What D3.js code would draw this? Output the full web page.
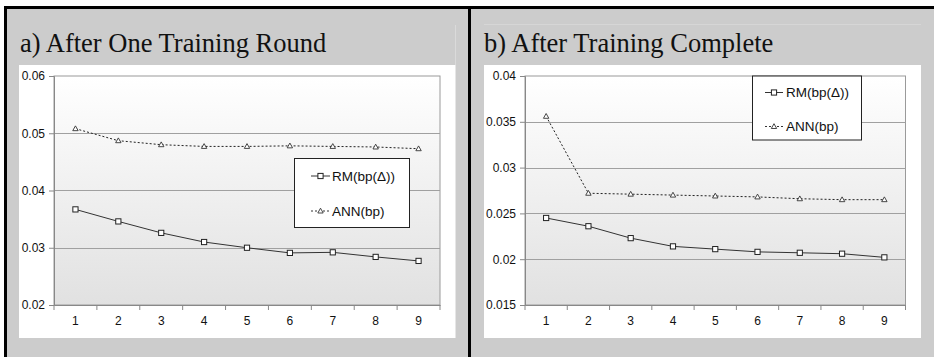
<!DOCTYPE html>
<html>
<head>
<meta charset="utf-8">
<title>Training error charts</title>
<script src="https://d3js.org/d3.v7.min.js"></script>
<style>
body { margin: 0; background: #fff; }
svg { display: block; }
.title { font-family: "Liberation Serif", "Times New Roman", serif; font-size: 26.5px; fill: #111; }
.tick text, .legend text { font-family: "Liberation Sans", Arial, sans-serif; fill: #111; }
.tick text { font-size: 12px; }
.legend text { font-size: 13.5px; }
</style>
</head>
<body>
<svg id="chart" width="934" height="357"></svg>
<script>
// x categories (training steps)
var steps = [1, 2, 3, 4, 5, 6, 7, 8, 9];
var seriesNames = ["RM(bp(\u0394))", "ANN(bp)"];

// a) After One Training Round
var rmRound = [0.0367, 0.0346, 0.0326, 0.0310, 0.0300, 0.0291, 0.0292, 0.0284, 0.0277];
var annRound = [0.0508, 0.0487, 0.0480, 0.0477, 0.0477, 0.0478, 0.0477, 0.0476, 0.0473];
var yTicksRound = [0.02, 0.03, 0.04, 0.05, 0.06];

// b) After Training Complete
var rmComplete = [0.0245, 0.0236, 0.0223, 0.0214, 0.0211, 0.0208, 0.0207, 0.0206, 0.0202];
var annComplete = [0.0356, 0.0272, 0.0271, 0.0270, 0.0269, 0.0268, 0.0266, 0.0265, 0.0265];
var yTicksComplete = [0.015, 0.02, 0.025, 0.03, 0.035, 0.04];

var svg = d3.select("#chart");

// gray page + black frame
svg.append("rect").attr("x", 6).attr("y", 9).attr("width", 928).attr("height", 348).attr("fill", "#cccccc");
svg.append("rect").attr("x", 4).attr("y", 6).attr("width", 930).attr("height", 3).attr("fill", "#000");
svg.append("rect").attr("x", 4).attr("y", 6).attr("width", 3).attr("height", 351).attr("fill", "#000");
svg.append("rect").attr("x", 468).attr("y", 6).attr("width", 3).attr("height", 351).attr("fill", "#000");

// faint leftovers in the scan
svg.append("line").attr("x1", 455.5).attr("x2", 455.5).attr("y1", 25).attr("y2", 65).attr("stroke", "#dadada");
svg.append("line").attr("x1", 484).attr("x2", 921).attr("y1", 24.5).attr("y2", 24.5).attr("stroke", "#d6d6d6");

var defs = svg.append("defs");
var grad = defs.append("linearGradient").attr("id", "plotbg").attr("x1", 0).attr("x2", 0).attr("y1", 0).attr("y2", 1);
grad.append("stop").attr("offset", "0%").attr("stop-color", "#ffffff");
grad.append("stop").attr("offset", "100%").attr("stop-color", "#e1e1e1");

var panels = [
  { title: "a) After One Training Round", titleX: 20, card: [19, 65, 455.5, 338],
    plot: [54, 76, 440, 305], domain: [0.02, 0.06], ticks: yTicksRound, fmt: d3.format(".2f"),
    rm: rmRound, ann: annRound,
    legend: { x: 294, y: 158, w: 115, h: 69, rows: [18, 53], lx: [17, 36], tx: 38 } },
  { title: "b) After Training Complete", titleX: 484, card: [484, 65, 921, 338],
    plot: [525, 76, 905.5, 305], domain: [0.015, 0.04], ticks: yTicksComplete, fmt: function (d) { return d3.format(".3~f")(d); },
    rm: rmComplete, ann: annComplete,
    legend: { x: 752, y: 75.5, w: 109, h: 64, rows: [17, 51], lx: [13, 31], tx: 34 } }
];

function triangle(g, x, y) {
  g.append("path")
    .attr("d", "M" + x + "," + (y - 2.8) + "L" + (x + 2.7) + "," + (y + 2) + "L" + (x - 2.7) + "," + (y + 2) + "Z")
    .attr("fill", "#fff").attr("stroke", "#333").attr("stroke-width", 0.9);
}
function square(g, x, y) {
  g.append("rect").attr("x", x - 2.6).attr("y", y - 2.6).attr("width", 5.2).attr("height", 5.2)
    .attr("fill", "#fff").attr("stroke", "#222").attr("stroke-width", 1);
}

panels.forEach(function (p) {
  var g = svg.append("g");
  g.append("rect").attr("x", p.card[0]).attr("y", p.card[1])
    .attr("width", p.card[2] - p.card[0]).attr("height", p.card[3] - p.card[1]).attr("fill", "#fff");
  g.append("text").attr("class", "title").attr("x", p.titleX).attr("y", 51.5).text(p.title);

  var x = d3.scaleBand().domain(steps).range([p.plot[0], p.plot[2]]);
  var y = d3.scaleLinear().domain(p.domain).range([p.plot[3], p.plot[1]]);

  g.append("rect").attr("x", p.plot[0]).attr("y", p.plot[1])
    .attr("width", p.plot[2] - p.plot[0]).attr("height", p.plot[3] - p.plot[1])
    .attr("fill", "url(#plotbg)").attr("stroke", "#9a9a9a").attr("stroke-width", 1);

  // gridlines
  g.selectAll(".grid").data(p.ticks.slice(1, -1)).enter().append("line")
    .attr("x1", p.plot[0]).attr("x2", p.plot[2])
    .attr("y1", function (d) { return Math.round(y(d)) + 0.5; })
    .attr("y2", function (d) { return Math.round(y(d)) + 0.5; })
    .attr("stroke", "#a0a0a0");

  var yAxis = g.append("g").attr("transform", "translate(" + p.plot[0] + ",0)")
    .call(d3.axisLeft(y).tickValues(p.ticks).tickFormat(p.fmt).tickSize(5).tickPadding(4));
  yAxis.select(".domain").attr("stroke", "#888");
  yAxis.selectAll(".tick line").attr("stroke", "#888");

  var xAxis = g.append("g").attr("transform", "translate(0," + p.plot[3] + ")")
    .call(d3.axisBottom(x).tickSize(0).tickPadding(11));
  xAxis.select(".domain").attr("stroke", "#888");
  // tick marks on band edges
  xAxis.selectAll(".edge").data(d3.range(steps.length + 1)).enter().append("line")
    .attr("x1", function (i) { return p.plot[0] + i * x.step(); })
    .attr("x2", function (i) { return p.plot[0] + i * x.step(); })
    .attr("y1", 0).attr("y2", 5).attr("stroke", "#888");

  var cx = function (d, i) { return x(steps[i]) + x.bandwidth() / 2; };
  var line = d3.line().x(cx).y(function (d) { return y(d); });

  g.append("path").datum(p.ann).attr("d", line).attr("fill", "none")
    .attr("stroke", "#222").attr("stroke-width", 1).attr("stroke-dasharray", "2,2");
  g.append("path").datum(p.rm).attr("d", line).attr("fill", "none")
    .attr("stroke", "#333").attr("stroke-width", 1);

  p.ann.forEach(function (d, i) { triangle(g, cx(d, i), y(d)); });
  p.rm.forEach(function (d, i) { square(g, cx(d, i), y(d)); });

  // legend
  var L = p.legend;
  var lg = g.append("g").attr("class", "legend");
  lg.append("rect").attr("x", L.x + 0.5).attr("y", L.y + 0.5).attr("width", L.w).attr("height", L.h)
    .attr("fill", "#fff").attr("stroke", "#222");
  seriesNames.forEach(function (name, k) {
    var ly = L.y + L.rows[k];
    lg.append("line").attr("x1", L.x + L.lx[0]).attr("x2", L.x + L.lx[1]).attr("y1", ly).attr("y2", ly)
      .attr("stroke", "#333").attr("stroke-dasharray", k === 1 ? "2,2" : null);
    if (k === 0) square(lg, L.x + (L.lx[0] + L.lx[1]) / 2, ly);
    else triangle(lg, L.x + (L.lx[0] + L.lx[1]) / 2, ly);
    lg.append("text").attr("x", L.x + L.tx).attr("y", ly).attr("dy", "0.35em").text(name);
  });
});
</script>
</body>
</html>
